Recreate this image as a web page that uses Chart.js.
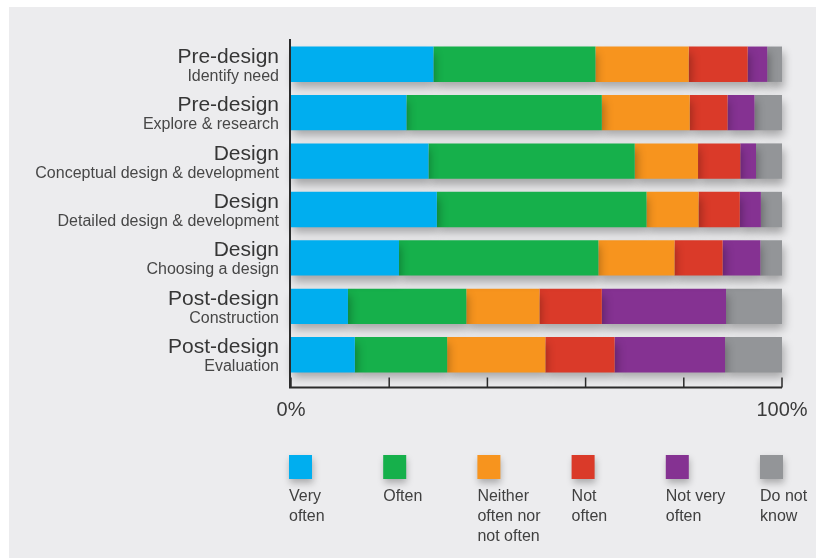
<!DOCTYPE html>
<html>
<head>
<meta charset="utf-8">
<title>How often each design stage is used</title>
<script src="https://cdn.jsdelivr.net/npm/chart.js@4.4.1/dist/chart.umd.min.js"></script>
<style>
  html, body { margin: 0; padding: 0; background: #fff; }
  .chart-container { position: relative; width: 816px; height: 558px; }
</style>
</head>
<body>
<div class="chart-container"><canvas id="stages"></canvas></div>
<script>
// stage (big line) and activity (small line) for each bar
const stages = ['Pre-design', 'Pre-design', 'Design', 'Design', 'Design', 'Post-design', 'Post-design'];
const activities = ['Identify need', 'Explore & research', 'Conceptual design & development',
  'Detailed design & development', 'Choosing a design', 'Construction', 'Evaluation'];

// answers in percent, one array per answer
const veryOften    = [29,   23.5, 28,   29.7, 22,   11.6, 13];
const often        = [33,   39.8, 42,   42.7, 40.6, 24.1, 18.8];
const neither      = [19,   17.9, 12.9, 10.6, 15.5, 14.9, 20];
const notOften     = [12,   7.7,  8.6,  8.4,  9.8,  12.7, 14.1];
const notVeryOften = [4,    5.5,  3.2,  4.3,  7.7,  25.3, 22.5];
const doNotKnow    = [3,    5.6,  5.3,  4.3,  4.4,  11.4, 11.6];

const seriesLines = [['Very', 'often'], ['Often'], ['Neither', 'often nor', 'not often'],
  ['Not', 'often'], ['Not very', 'often'], ['Do not', 'know']];
const seriesColors = ['#00aeef', '#16b04b', '#f7941e', '#da3a29', '#853292', '#939598'];
const seriesValues = [veryOften, often, neither, notOften, notVeryOften, doNotKnow];

const xTickLabels = { 0: '0%', 100: '100%' };

const FONT = '"Liberation Sans", Arial, sans-serif';

const decorations = {
  id: 'decorations',
  beforeDraw(chart) {
    const ctx = chart.ctx;
    ctx.save();
    ctx.fillStyle = '#ffffff';
    ctx.fillRect(0, 0, chart.width, chart.height);
    ctx.fillStyle = '#ececee';
    ctx.fillRect(9, 7, chart.width - 9, chart.height - 7);
    ctx.restore();
  },
  beforeDatasetsDraw(chart) {
    // soft drop shadow under every segment
    const ctx = chart.ctx;
    ctx.save();
    ctx.shadowColor = 'rgba(0, 0, 0, 0.3)';
    ctx.shadowBlur = 9;
    ctx.shadowOffsetX = 2;
    ctx.shadowOffsetY = 6;
  },
  afterDatasetsDraw(chart) {
    const ctx = chart.ctx;
    ctx.restore();

    const area = chart.chartArea;
    const x = chart.scales.x;
    const y = chart.scales.y;

    // axis lines with tick marks pointing inward
    const x0 = x.getPixelForValue(0) - 1;
    const axisY = area.bottom + 8.5;
    ctx.save();
    ctx.strokeStyle = '#2b2b2b';
    ctx.lineWidth = 2;
    ctx.beginPath();
    ctx.moveTo(x0, area.top - 1);
    ctx.lineTo(x0, axisY);
    ctx.lineTo(x.getPixelForValue(100), axisY);
    ctx.stroke();
    ctx.lineWidth = 1.5;
    ctx.beginPath();
    x.ticks.forEach(t => {
      const px = x.getPixelForValue(t.value);
      ctx.moveTo(px, axisY);
      ctx.lineTo(px, axisY - 10);
    });
    ctx.stroke();

    // two-line category labels
    ctx.textAlign = 'right';
    ctx.textBaseline = 'alphabetic';
    stages.forEach((s, i) => {
      const cy = y.getPixelForValue(i);
      ctx.font = '21px ' + FONT;
      ctx.fillStyle = '#363636';
      ctx.fillText(s, 279, cy - 1.5);
      ctx.font = '16px ' + FONT;
      ctx.fillStyle = '#474747';
      ctx.fillText(activities[i], 279, cy + 16.5);
    });

    // legend: swatch above wrapped label
    ctx.textAlign = 'left';
    chart.data.datasets.forEach((ds, i) => {
      const lx = 289 + 94.2 * i;
      ctx.save();
      ctx.shadowColor = 'rgba(0, 0, 0, 0.28)';
      ctx.shadowBlur = 7;
      ctx.shadowOffsetX = 1;
      ctx.shadowOffsetY = 4;
      ctx.fillStyle = ds.backgroundColor;
      ctx.fillRect(lx, 455, 23, 24);
      ctx.restore();
      ctx.font = '16px ' + FONT;
      ctx.fillStyle = '#404040';
      seriesLines[i].forEach((line, k) => ctx.fillText(line, lx, 501 + 20 * k));
    });
    ctx.restore();
  }
};

new Chart(document.getElementById('stages'), {
  type: 'bar',
  data: {
    labels: stages.map((s, i) => [s, activities[i]]),
    datasets: seriesValues.map((values, i) => ({
      label: seriesLines[i].join(' '),
      data: values,
      backgroundColor: seriesColors[i],
      borderWidth: 0,
      barPercentage: 0.73,
      categoryPercentage: 1,
      clip: false
    }))
  },
  options: {
    indexAxis: 'y',
    responsive: true,
    maintainAspectRatio: false,
    animation: false,
    layout: { padding: { left: 291, right: 34, top: 40, bottom: 117 } },
    plugins: {
      legend: { display: false },
      tooltip: { enabled: false }
    },
    scales: {
      x: {
        stacked: true,
        min: 0,
        max: 100,
        grid: { display: false, drawTicks: false },
        border: { display: false },
        ticks: {
          stepSize: 20,
          padding: 19,
          maxRotation: 0,
          autoSkip: false,
          color: '#3a3a3a',
          font: { family: FONT, size: 20 },
          callback: v => xTickLabels[v] || ''
        },
        // the "100%" label may hang past the plot edge
        afterFit: scale => {
          scale.paddingLeft = 0;
          scale.paddingRight = 0;
        }
      },
      y: {
        stacked: true,
        display: false
      }
    }
  },
  plugins: [decorations]
});
</script>
</body>
</html>
